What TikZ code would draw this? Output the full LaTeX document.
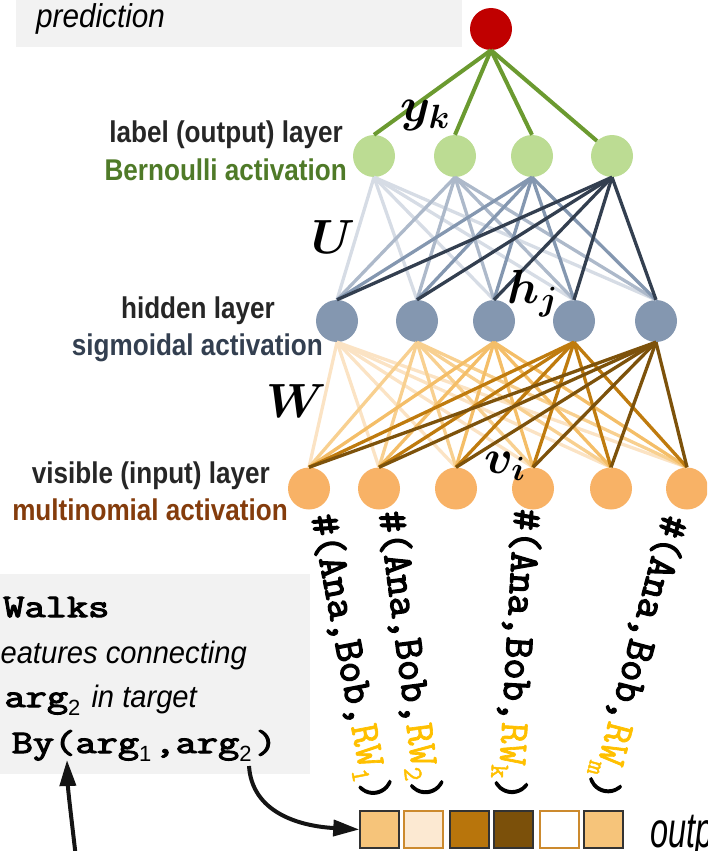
\RequirePackage{fix-cm}
\documentclass[tikz,border=0pt]{standalone}
\usepackage{bm}
\usepackage{graphicx}
\usepackage{fontspec}
\setmainfont{Liberation Sans}
\newfontfamily\courbold{Latin Modern Mono}[FakeBold=3]
\newfontfamily\courreg{Latin Modern Mono}[FakeBold=1.6]
\usetikzlibrary{arrows.meta}

% palette
\definecolor{panel}{HTML}{F2F2F2}
\definecolor{predred}{HTML}{C00000}
\definecolor{lblfill}{HTML}{BCDC93}
\definecolor{lblline}{HTML}{6B9A30}
\definecolor{lbltext}{HTML}{4F7A28}
\definecolor{hidfill}{HTML}{8497B0}
\definecolor{hidtext}{HTML}{333F50}
\definecolor{ua}{HTML}{D6DCE5}
\definecolor{ub}{HTML}{ADB9CA}
\definecolor{uc}{HTML}{8497B0}
\definecolor{ud}{HTML}{333F50}
\definecolor{visfill}{HTML}{F8B266}
\definecolor{vistext}{HTML}{843C0C}
\definecolor{wa}{HTML}{FBE3C4}
\definecolor{wb}{HTML}{F8D090}
\definecolor{wc}{HTML}{F4BE68}
\definecolor{wd}{HTML}{BF7B0E}
\definecolor{we}{HTML}{7D520B}
\definecolor{darktext}{HTML}{262626}
\definecolor{gold}{HTML}{FFC000}
\definecolor{cella}{HTML}{F6C47A}
\definecolor{cellb}{HTML}{FCE9D2}
\definecolor{cellc}{HTML}{B8750C}
\definecolor{celld}{HTML}{7B500A}
\definecolor{celledge}{HTML}{CC8A2E}

\newcommand{\hs}[2]{\scalebox{#1}[1]{#2}}
\newcommand{\layerfont}{\fontsize{30}{36}\selectfont\bfseries}
\newcommand{\mathfontsize}{\fontsize{48}{50}\selectfont}
\newcommand{\codetxt}[1]{\scalebox{1.25}[1]{\courbold\fontsize{33}{38}\selectfont #1}}
\newcommand{\italfont}{\fontsize{31}{34}\selectfont\itshape}
\newcommand{\lsub}[1]{\raisebox{-8pt}{\fontsize{22}{22}\selectfont\mdseries\upshape\rmfamily #1}}
\newcommand{\walk}[1]{{\courbold\fontsize{41.5}{44}\selectfont
  \#(Ana,Bob,{\courreg\color{gold}RW\raisebox{-8pt}{\fontsize{27}{27}\selectfont #1}})}}

\tikzset{
  neuron/.style={circle, inner sep=0pt, minimum size=42pt, draw=none},
  rtxt/.style={anchor=base east, inner sep=0pt},
  ltxt/.style={anchor=base west, inner sep=0pt},
  cell/.style={rectangle, inner sep=0pt, minimum width=39pt, minimum height=37pt, line width=1.5pt},
  arr/.style={line width=4pt, draw=black!92, -{Triangle[length=26pt,width=16pt]}},
}

\begin{document}
\begin{tikzpicture}[x=1pt, y=-1pt]
\useasboundingbox (0,0) rectangle (707,851);
\clip (0,0) rectangle (707,851);

% shaded panels
\fill[panel] (16,-10) rectangle (462,47);
\fill[panel] (-10,574) rectangle (310,774);

% neurons
\node[neuron, fill=predred] (R) at (491,29) {};
\foreach \x [count=\i] in {374,455,532,612}
  \node[neuron, fill=lblfill] (L\i) at (\x,156) {};
\foreach \x [count=\i] in {337,417,494,574,656}
  \node[neuron, fill=hidfill] (H\i) at (\x,321) {};
\foreach \x [count=\i] in {309,379,456,533,611,687}
  \node[neuron, fill=visfill] (V\i) at (\x,488.5) {};

% prediction to label layer
\foreach \i in {1,2,3}
  \draw[lblline, line width=4pt] (R.south) -- (L\i.north);
\draw[lblline, line width=4pt] (R.south) -- (L4.north west);

% label layer to hidden layer (U)
\foreach \i/\c in {1/ua,2/ub,3/uc,4/ud}
  \foreach \j in {1,...,5}
    \draw[\c, line width=3.3pt] (L\i.south) -- (H\j.north);

% hidden layer to visible layer (W)
\foreach \j/\c in {1/wa,2/wb,3/wc,4/wd,5/we}
  \foreach \k in {1,...,6}
    \draw[\c, line width=3.3pt] (H\j.south) -- (V\k.north);

% layer captions
\node[rtxt] (cap1) at (343,142) {\hs{0.87}{\layerfont\color{darktext}label (output) layer}};
\node[rtxt] (cap2) at (347,180) {\hs{0.87}{\layerfont\color{lbltext}Bernoulli activation}};
\node[rtxt] (cap3) at (275,318) {\hs{0.87}{\layerfont\color{darktext}hidden layer}};
\node[rtxt] (cap4) at (323,355) {\hs{0.87}{\layerfont\color{hidtext}sigmoidal activation}};
\node[rtxt] (cap5) at (270,483) {\hs{0.87}{\layerfont\color{darktext}visible (input) layer}};
\node[rtxt] (cap6) at (288,520) {\hs{0.87}{\layerfont\color{vistext}multinomial activation}};

% weight and unit symbols
\node[ltxt] (yk) at (400,121) {\mathfontsize$\bm{y}_{\bm{k}}$};
\node[ltxt] (U) at (311,253) {\mathfontsize$\bm{U}$};
\node[ltxt] (hj) at (507,303) {\mathfontsize$\bm{h}_{\bm{j}}$};
\node[ltxt] (W) at (266,417) {\mathfontsize$\bm{W}$};
\node[ltxt] (vi) at (484,473) {\mathfontsize$\bm{v}_{\bm{i}}$};

% top panel text
\node[ltxt] (pred) at (36,28) {\hs{0.9}{\fontsize{33}{36}\selectfont\itshape prediction}};

% random-walk feature labels
\node[ltxt, rotate=-79.2] (f1) at (311,516.5) {\walk{1}};
\node[ltxt, rotate=-82.6] (f2) at (378.7,512.6) {\walk{2}};
\node[ltxt, rotate=-93.3] (f3) at (514.6,508.3) {\walk{k}};
\node[ltxt, rotate=-104.7] (f4) at (663.2,513.3) {\walk{m}};

% output vector
\node[cell, fill=cella, draw=black!80] (b1) at (379.5,829.5) {};
\node[cell, fill=cellb, draw=celledge] (b2) at (423.5,829.5) {};
\node[cell, fill=cellc, draw=black!80] (b3) at (469.5,829.5) {};
\node[cell, fill=celld, draw=black!80] (b4) at (513.5,829.5) {};
\node[cell, fill=white, draw=celledge] (b5) at (559.5,829.5) {};
\node[cell, fill=cella, draw=black!80] (b6) at (603.5,829.5) {};
\node[ltxt] (outlbl) at (650,847) {\hs{0.65}{\fontsize{50}{54}\selectfont\itshape output}};

% lower panel text
\node[ltxt] (walks) at (3,617) {\codetxt{Walks}};
\node[rtxt] (feat) at (247,663) {\hs{0.94}{\italfont eatures connecting}};
\node[rtxt] (argline) at (197,707) {\codetxt{arg}\lsub{2}\hspace{3pt}\hs{0.94}{\italfont\ in target}};
\node[rtxt] (byline) at (277,753) {\codetxt{By(arg}\lsub{1}\hspace{3pt}\codetxt{,arg}\lsub{2}\hspace{4pt}\codetxt{)}};

% arrows
\coordinate (tailA) at (76,858);
\coordinate (tipA) at (67,760);
\coordinate (tailB) at (249,766);
\draw[arr] (tailA) .. controls (71,815) and (68,790) .. (tipA);
\draw[arr] (tailB) .. controls (252,812) and (298,826) .. (b1.west);
\end{tikzpicture}
\end{document}
